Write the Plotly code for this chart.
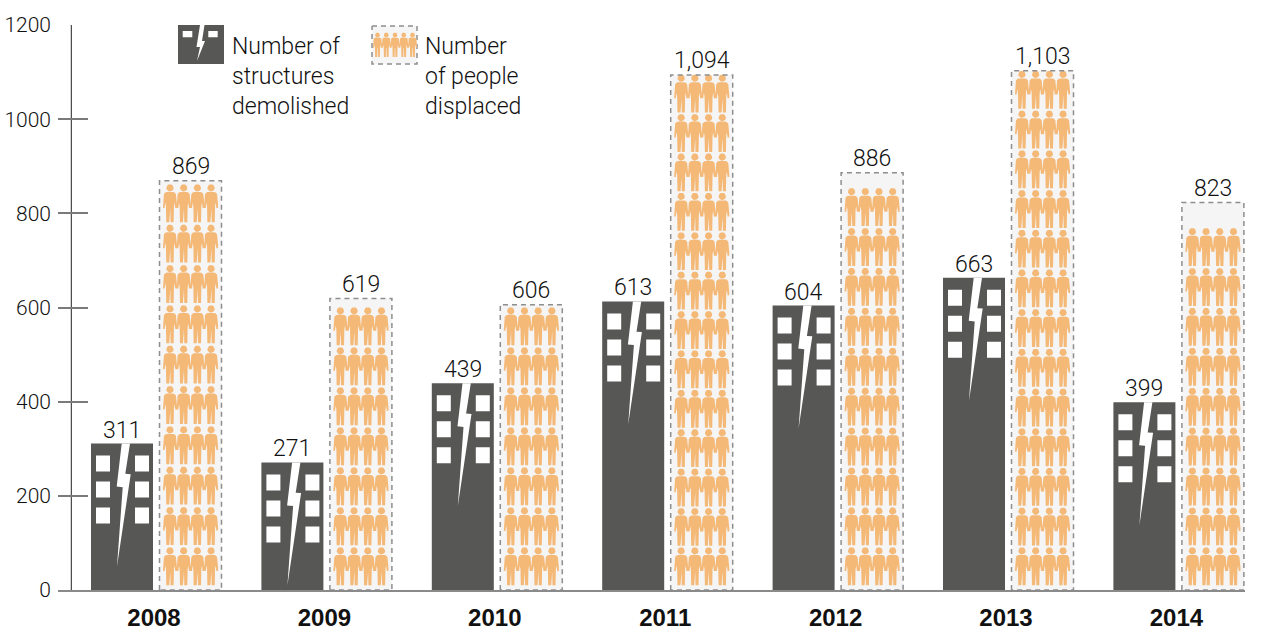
import math
import plotly.graph_objects as go

# ---- data ----
years = [2008, 2009, 2010, 2011, 2012, 2013, 2014]
structures = [311, 271, 439, 613, 604, 663, 399]
people = [869, 619, 606, 1094, 886, 1103, 823]
people_labels = ["869", "619", "606", "1,094", "886", "1,103", "823"]
icon_rows = [10, 7, 7, 13, 10, 13, 9]
top_row_value = [854, 593, 593, 1087, 846, 1095, 761]
bottom_row_value = 83
y_ticks = [0, 200, 400, 600, 800, 1000, 1200]
legend_left = ["Number of", "structures", "demolished"]
legend_right = ["Number", "of people", "displaced"]

# ---- styling / scale ----
DARK = "#575756"
ORANGE = "#F4B877"
LIGHT = "#F5F5F5"
BORDER = "#8E8E8E"
TEXT = "#111111"
FONT = "Roboto"
W, H = 1261, 626
L, R, T, B = 58, 1245, 25, 590
PXX = 170.4            # pixels per year
PXY = (B - T) / 1200   # pixels per unit
X_ANCHOR = 154         # pixel of 2008

def dx(p):
    return p / PXX

def dy(p):
    return p / PXY

def px_x(p):
    return 2008 + (p - X_ANCHOR) / PXX

def px_y(p):
    return (B - p) / PXY

D_OFF, L_OFF, BAR_W = dx(-32), dx(36.5), dx(62)

PERSON = [(-8, 12), (-13, 13), (-18, 18), (-21, 50), (-21, 60), (-16, 60), (-14, 44),
          (-12, 55), (-11, 103), (-2, 103), (-1, 62), (1, 62), (2, 103), (11, 103),
          (12, 55), (14, 44), (16, 60), (21, 60), (21, 50), (18, 18), (13, 13), (8, 12)]
HEAD_R = 11
BOLT = [(30.7, 0), (39, 0), (34.3, 30.3), (39.7, 30.7), (26, 123), (31.7, 43.7), (25.7, 43)]
WINDOWS = [(5, 12), (44, 12), (5, 38), (44, 38), (5, 64), (44, 64)]
WIN_W, WIN_H = 14, 16


def add_poly(xs, ys, pts):
    xs.extend(p[0] for p in pts + pts[:1])
    ys.extend(p[1] for p in pts + pts[:1])
    xs.append(None)
    ys.append(None)


def add_person(xs, ys, cx, cy, scale):
    """cx, cy: head centre in data units; scale on the icon's own pixel design."""
    s = scale / 3
    add_poly(xs, ys, [(cx + dx(a * s), cy - dy(b * s)) for a, b in PERSON])
    add_poly(xs, ys, [(cx + dx(HEAD_R * s * math.cos(t * math.pi / 8)),
                       cy + dy(HEAD_R * s * math.sin(t * math.pi / 8))) for t in range(16)])


def add_rect(xs, ys, x0, y0, w, h):
    add_poly(xs, ys, [(x0, y0), (x0 + w, y0), (x0 + w, y0 - h), (x0, y0 - h)])


fig = go.Figure()
fig.add_bar(x=[y + D_OFF for y in years], y=structures, width=BAR_W,
            marker=dict(color=DARK, line_width=0), hoverinfo="skip")
fig.add_bar(x=[y + L_OFF for y in years], y=people, width=BAR_W,
            marker=dict(color=LIGHT, line_width=0), hoverinfo="skip")

# people icons
ox, oy = [], []
for year, rows, top in zip(years, icon_rows, top_row_value):
    step = (top - bottom_row_value) / (rows - 1)
    for r in range(rows):
        for c in range(4):
            add_person(ox, oy, year + L_OFF + dx((c - 1.5) * 13.7), bottom_row_value + r * step, 1)

# dashed outline
bx, by = [], []
for year, v in zip(years, people):
    x0, x1 = year + L_OFF - BAR_W / 2, year + L_OFF + BAR_W / 2
    add_poly(bx, by, [(x0, 0), (x0, v), (x1, v), (x1, 0)])

# building windows and bolts
wx, wy = [], []
for year, v in zip(years, structures):
    left = year + D_OFF - BAR_W / 2
    for a, b in WINDOWS:
        add_rect(wx, wy, left + dx(a), v - dy(b), dx(WIN_W), dy(WIN_H))
    add_poly(wx, wy, [(left + dx(a), v - dy(b)) for a, b in BOLT])

# legend icons
lgx, lgy = [], []
add_rect(lgx, lgy, px_x(178), px_y(25), dx(46), dy(39))
lwx, lwy = [], []
add_rect(lwx, lwy, px_x(182.7), px_y(31), dx(9.6), dy(6.3))
add_rect(lwx, lwy, px_x(208.3), px_y(31), dx(9.4), dy(6.3))
add_poly(lwx, lwy, [(px_x(a), px_y(b)) for a, b in
                    [(200, 25), (204.5, 25), (202, 41), (205, 41), (197, 61), (200, 47), (196.5, 47)]])
lbx, lby = [], []
add_rect(lbx, lby, px_x(372), px_y(26), dx(45), dy(38))
lpx, lpy = [], []
for i in range(5):
    add_person(lpx, lpy, px_x(377.5 + i * 8.75), px_y(35), 0.64)

common = dict(mode="lines", hoverinfo="skip", showlegend=False)
fig.add_scatter(x=lbx, y=lby, fill="toself", fillcolor=LIGHT,
                line=dict(color=BORDER, width=1.5, dash="5px,4px"), **common)
fig.add_scatter(x=ox, y=oy, fill="toself", fillcolor=ORANGE, line=dict(width=0, color=ORANGE), **common)
fig.add_scatter(x=lpx, y=lpy, fill="toself", fillcolor=ORANGE, line=dict(width=0, color=ORANGE), **common)
fig.add_scatter(x=bx, y=by, line=dict(color=BORDER, width=1.5, dash="5px,4px"), **common)
fig.add_scatter(x=lgx, y=lgy, fill="toself", fillcolor=DARK, line=dict(width=0, color=DARK), **common)
fig.add_scatter(x=wx, y=wy, fill="toself", fillcolor="white", line=dict(width=0, color="white"), **common)
fig.add_scatter(x=lwx, y=lwy, fill="toself", fillcolor="white", line=dict(width=0, color="white"), **common)

# vertical axis line crossing the ticks
fig.add_scatter(x=[px_x(71.3), px_x(71.3)], y=[y_ticks[0], y_ticks[-1]],
                line=dict(color="#222222", width=1), **common)

# value labels
annotations = []
label_font = dict(family=FONT, size=23, color=TEXT, weight=300)
for year, v in zip(years, structures):
    annotations.append(dict(x=year + D_OFF, y=v, text=str(v), showarrow=False, yanchor="bottom",
                            yshift=-2, font=label_font, xref="x", yref="y"))
for year, v, t in zip(years, people, people_labels):
    annotations.append(dict(x=year + L_OFF, y=v, text=t, showarrow=False, yanchor="bottom",
                            yshift=-1, font=label_font, xref="x", yref="y"))
# legend text
for lines, xpix in ((legend_left, 232), (legend_right, 425)):
    for i, line in enumerate(lines):
        annotations.append(dict(x=px_x(xpix), y=px_y(46 + 30 * i), text=line, showarrow=False,
                                xanchor="left", yanchor="middle", xref="x", yref="y",
                                xshift=-2, font=label_font))

fig.update_layout(
    width=W, height=H, autosize=False, showlegend=False, barmode="overlay",
    margin=dict(l=L, r=W - R, t=T, b=H - B, pad=0),
    paper_bgcolor="white", plot_bgcolor="white",
    annotations=annotations,
    xaxis=dict(range=[px_x(L), px_x(R)], tickmode="array", tickvals=years, automargin=False,
               ticktext=[str(y) for y in years], ticks="", showgrid=False, zeroline=False,
               showline=True, linecolor="#8A8A8A", linewidth=1.5,
               ticklabelstandoff=5,
               tickfont=dict(family="Liberation Sans", size=24, color="#111111", weight=700)),
    yaxis=dict(range=[0, 1200], tickmode="array", tickvals=y_ticks, ticks="inside", ticklen=30,
               automargin=False,
               tickwidth=1.5, tickcolor="#7A7A7A", showgrid=False, zeroline=False, showline=False,
               ticklabelstandoff=6,
               tickfont=dict(family=FONT, size=21, color=TEXT, weight=300)),
)

fig.write_html("out.html", config=dict(displayModeBar=False),
               post_script="document.body.style.margin='0';")
